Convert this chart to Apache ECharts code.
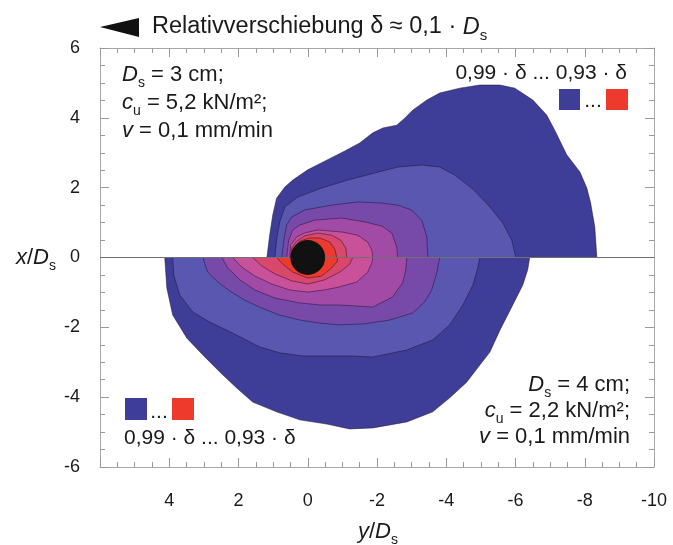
<!DOCTYPE html>
<html><head><meta charset="utf-8">
<script src="https://cdn.jsdelivr.net/npm/echarts@6/dist/echarts.min.js"></script>
<style>html,body{margin:0;padding:0;background:#fff}#c{width:673px;height:545px}</style>
</head><body><div id="c"></div>
<script>
// Axis ticks (y/Ds horizontal, x/Ds vertical)
const xTickValues = [6, 4, 2, 0, -2, -4, -6, -8, -10];
const yTickValues = [-6, -4, -2, 0, 2, 4, 6];
// Contour levels (fraction of delta)
const levels = [0.99, 0.98, 0.97, 0.96, 0.95, 0.94, 0.93];

// Upper half: Ds = 3 cm, points as [y/Ds, x/Ds]
const upper099 = [[1.18,0],[1.10,0.64],[1.01,1.22],[0.90,1.70],[0.66,2.02],[0.43,2.22],[0,2.51],[-0.49,2.76],[-1.07,3.05],[-1.50,3.28],[-1.88,3.57],[-2.17,3.71],[-2.57,3.79],[-2.80,3.99],[-3.03,4.22],[-3.44,4.51],[-3.81,4.71],[-4.39,4.85],[-4.97,4.94],[-5.55,4.94],[-5.98,4.85],[-6.50,4.51],[-6.90,4.08],[-7.13,3.65],[-7.48,2.94],[-7.86,2.45],[-8.06,1.99],[-8.17,1.56],[-8.29,0.87],[-8.35,0]];
const upper098 = [[0.95,0],[0.90,0.50],[0.81,1.02],[0.66,1.45],[0.29,1.73],[-0.40,1.99],[-1.16,2.22],[-1.93,2.42],[-2.60,2.59],[-3.29,2.65],[-3.81,2.59],[-4.25,2.36],[-4.77,1.96],[-5.26,1.45],[-5.63,0.99],[-5.89,0.50],[-6.01,0]];
const upper097 = [[0.75,0],[0.69,0.50],[0.61,0.93],[0.46,1.16],[0.09,1.36],[-0.69,1.50],[-1.44,1.59],[-2.14,1.56],[-2.60,1.50],[-3.00,1.36],[-3.29,1.07],[-3.44,0.59],[-3.47,0]];
const upper096 = [[0.61,0],[0.55,0.50],[0.43,0.79],[0.23,0.93],[-0.20,1.07],[-0.98,1.13],[-1.65,1.02],[-2.14,0.90],[-2.43,0.70],[-2.57,0.30],[-2.60,0]];
const upper095 = [[0.52,0],[0.49,0.36],[0.32,0.59],[0.09,0.70],[-0.29,0.79],[-0.98,0.73],[-1.44,0.64],[-1.73,0.44],[-1.85,0.21],[-1.88,0]];
const upper094 = [[0.49,0],[0.46,0.27],[0.32,0.47],[0.09,0.62],[-0.29,0.70],[-0.69,0.64],[-0.95,0.50],[-1.10,0.27],[-1.13,0]];
const upper093 = [[0.46,0],[0.40,0.27],[0.23,0.47],[-0.06,0.56],[-0.35,0.56],[-0.64,0.44],[-0.78,0.24],[-0.84,0]];

// Lower half: Ds = 4 cm
const lower099 = [[4.13,0],[4.07,-0.87],[3.90,-1.65],[3.49,-2.31],[3.03,-2.79],[2.54,-3.28],[2.05,-3.74],[1.59,-4.14],[0.90,-4.42],[0.23,-4.65],[-0.55,-4.77],[-1.21,-4.91],[-1.88,-4.88],[-2.86,-4.71],[-3.61,-4.42],[-4.10,-4.02],[-4.59,-3.57],[-4.97,-3.08],[-5.26,-2.71],[-5.55,-2.08],[-5.92,-1.36],[-6.21,-0.79],[-6.35,-0.36],[-6.41,0]];
const lower098 = [[3.90,0],[3.87,-0.50],[3.70,-1.07],[3.32,-1.56],[2.83,-1.85],[2.34,-2.08],[1.88,-2.31],[1.39,-2.56],[0.81,-2.73],[0.14,-2.82],[-0.55,-2.82],[-1.21,-2.82],[-1.88,-2.85],[-2.86,-2.65],[-3.61,-2.36],[-4.10,-1.93],[-4.48,-1.36],[-4.77,-0.79],[-4.91,-0.30],[-4.97,0]];
const lower097 = [[3.03,0],[2.89,-0.42],[2.60,-0.70],[2.25,-0.96],[1.82,-1.22],[1.33,-1.45],[0.81,-1.65],[0.23,-1.79],[-0.35,-1.88],[-0.92,-1.93],[-1.65,-1.90],[-2.37,-1.79],[-3.03,-1.59],[-3.38,-1.27],[-3.58,-0.93],[-3.73,-0.42],[-3.81,0]];
const lower096 = [[2.48,0],[2.31,-0.30],[1.96,-0.64],[1.53,-0.93],[0.95,-1.16],[0.23,-1.30],[-0.35,-1.36],[-0.92,-1.36],[-1.88,-1.42],[-2.45,-1.13],[-2.74,-0.73],[-2.83,-0.36],[-2.86,0]];
const lower095 = [[2.17,0],[1.91,-0.27],[1.53,-0.53],[1.04,-0.76],[0.52,-0.93],[0,-0.99],[-0.49,-0.93],[-0.92,-0.84],[-1.42,-0.70],[-1.73,-0.42],[-1.85,-0.16],[-1.88,0]];
const lower094 = [[1.59,0],[1.33,-0.24],[0.95,-0.47],[0.46,-0.67],[0,-0.76],[-0.49,-0.64],[-0.92,-0.42],[-1.21,-0.19],[-1.30,0]];
const lower093 = [[0.90,0],[0.72,-0.19],[0.43,-0.42],[0,-0.59],[-0.40,-0.53],[-0.69,-0.30],[-0.84,-0.13],[-0.87,0]];

// Pile (black circle) centre and radius in Ds units
const pileCenter = [0, 0];
const pileRadius = 0.5;

const upperContours = [upper099, upper098, upper097, upper096, upper095, upper094, upper093];
const lowerContours = [lower099, lower098, lower097, lower096, lower095, lower094, lower093];
const bandColors = ['#3e3e98', '#5957b0', '#774aa9', '#a14ba6', '#c9519a', '#d9476a', '#ee3a2c'];

const F = '"Liberation Sans", Arial, Helvetica, sans-serif';
const TXT = '#1a1a1a';

function contourSeries(name, contours) {
  return {
    name: name, type: 'custom', z: 2,
    data: contours.map((c, i) => [c[0][0], c[0][1], i]),
    renderItem: function (params, api) {
      const idx = api.value(2);
      const pts = contours[idx].map(p => api.coord(p));
      return {
        type: 'polygon',
        shape: { points: pts },
        style: { fill: bandColors[idx], stroke: 'rgba(30,20,50,0.75)', lineWidth: 0.7 }
      };
    }
  };
}

function rich(size, sub) {
  return {
    n: { fontSize: size, fontFamily: F, fill: TXT, color: TXT, lineHeight: Math.round(size * 1.4) },
    i: { fontSize: size, fontFamily: F, fontStyle: 'italic', fill: TXT, color: TXT, lineHeight: Math.round(size * 1.4) },
    sub: { fontSize: sub, fontFamily: F, fill: TXT, color: TXT, verticalAlign: 'bottom' }
  };
}
function txt(x, y, text, align, size, sub) {
  return { type: 'text', x: x, y: y, z: 100,
    style: { text: text, rich: rich(size || 22, sub || 14), align: align, verticalAlign: 'middle', fill: TXT, font: (size || 22) + 'px ' + F } };
}
function fmtLevel(v) { return String(v).replace('.', ','); }
const legendText = '{n|' + fmtLevel(levels[0]) + ' · δ ... ' + fmtLevel(levels[levels.length - 1]) + ' · δ}';

const axisCommon = {
  type: 'value',
  axisLine: { show: true, onZero: false, lineStyle: { color: '#a8a8a8', width: 1 } },
  axisTick: { show: true, inside: true, length: 9, lineStyle: { color: '#9a9a9a' } },
  minorTick: { show: true, splitNumber: 4, length: 5, lineStyle: { color: '#9a9a9a' } },
  splitLine: { show: false }
};

const chart = echarts.init(document.getElementById('c'), null, { renderer: 'canvas' });
chart.setOption({
  animation: false,
  backgroundColor: '#fff',
  grid: { left: 100, right: 19, top: 48, bottom: 78 },
  xAxis: [
    Object.assign({}, axisCommon, { min: -10, max: 6, interval: 2, inverse: true, position: 'bottom',
      axisLabel: { fontSize: 18, fontFamily: F, color: TXT, margin: 25,
        formatter: v => (xTickValues.indexOf(v) >= 0 && v !== 6) ? String(v) : '' } }),
    Object.assign({}, axisCommon, { min: -10, max: 6, interval: 2, inverse: true, position: 'top',
      axisLabel: { show: false } })
  ],
  yAxis: [
    Object.assign({}, axisCommon, { min: -6, max: 6, interval: 2, position: 'left',
      axisLabel: { fontSize: 18, fontFamily: F, color: TXT, margin: 20,
        formatter: v => yTickValues.indexOf(v) >= 0 ? String(v) : '' } }),
    Object.assign({}, axisCommon, { min: -6, max: 6, interval: 2, position: 'right',
      axisLabel: { show: false } })
  ],
  series: [
    contourSeries('Ds=3cm', upperContours),
    contourSeries('Ds=4cm', lowerContours),
    { type: 'line', z: 4, symbol: 'none', silent: true,
      data: [[6, 0], [-10, 0]], lineStyle: { color: '#707070', width: 1 } },
    { type: 'custom', z: 5, data: [pileCenter],
      renderItem: function (params, api) {
        const c = api.coord([api.value(0), api.value(1)]);
        const s = api.size([1, 1]);
        return { type: 'circle', shape: { cx: c[0], cy: c[1], r: pileRadius * (s[0] + s[1]) / 2 },
          style: { fill: '#111111' } };
      } }
  ],
  graphic: [
    { type: 'polygon', z: 100, shape: { points: [[100, 27], [139, 18], [139, 37]] }, style: { fill: '#111' } },
    txt(152, 27, '{n|Relativverschiebung δ ≈ 0,1 · }{i|D}{sub|s}', 'left', 23.5, 15),
    // upper-left parameters
    txt(122, 75, '{i|D}{sub|s}{n| = 3 cm;}', 'left'),
    txt(122, 103, '{i|c}{sub|u}{n| = 5,2 kN/m²;}', 'left'),
    txt(122, 131, '{i|v}{n| = 0,1 mm/min}', 'left'),
    // upper-right colour key
    txt(627, 73, legendText, 'right', 21),
    { type: 'rect', z: 100, shape: { x: 559, y: 89, width: 21, height: 21 }, style: { fill: bandColors[0] } },
    { type: 'rect', z: 100, shape: { x: 606, y: 89, width: 22, height: 21 }, style: { fill: bandColors[6] } },
    { type: 'text', z: 100, x: 593, y: 112, style: { text: '...', font: '21px ' + F, fill: TXT, align: 'center', verticalAlign: 'bottom' } },
    // lower-left colour key
    { type: 'rect', z: 100, shape: { x: 125, y: 398, width: 22, height: 22 }, style: { fill: bandColors[0] } },
    { type: 'rect', z: 100, shape: { x: 172, y: 398, width: 22, height: 22 }, style: { fill: bandColors[6] } },
    { type: 'text', z: 100, x: 159, y: 423, style: { text: '...', font: '21px ' + F, fill: TXT, align: 'center', verticalAlign: 'bottom' } },
    txt(124, 438, legendText, 'left', 21),
    // lower-right parameters
    txt(630, 385, '{i|D}{sub|s}{n| = 4 cm;}', 'right'),
    txt(630, 411, '{i|c}{sub|u}{n| = 2,2 kN/m²;}', 'right'),
    txt(630, 437, '{i|v}{n| = 0,1 mm/min}', 'right'),
    // axis names
    txt(56, 258, '{i|x}{n|/}{i|D}{sub|s}', 'right'),
    txt(378, 532, '{i|y}{n|/}{i|D}{sub|s}', 'center')
  ]
});
</script>
</body></html>
